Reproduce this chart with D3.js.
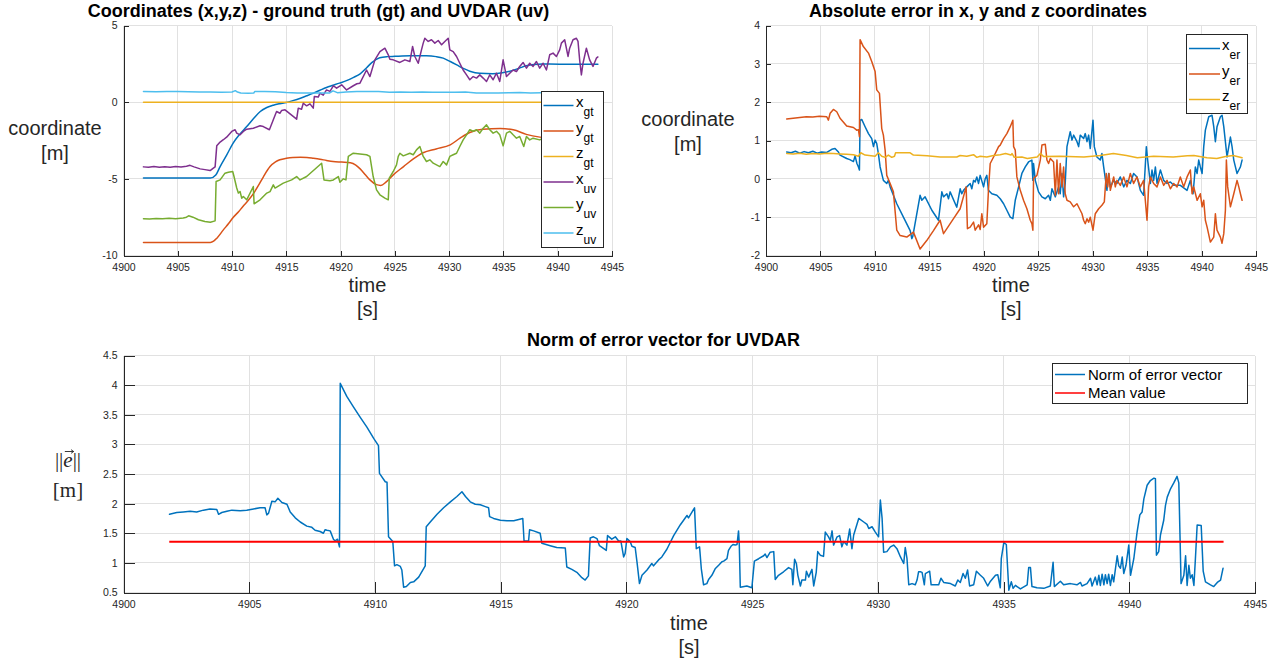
<!DOCTYPE html>
<html>
<head>
<meta charset="utf-8">
<script src="https://cdn.jsdelivr.net/npm/d3@7"></script>
<style>
  html, body { margin: 0; padding: 0; background: #ffffff; }
  svg { display: block; }
</style>
</head>
<body>
<svg id="fig" width="1284" height="663"></svg>
<script>
// ---------- tick values ----------
const timeTicks  = [4900, 4905, 4910, 4915, 4920, 4925, 4930, 4935, 4940, 4945];
const coordTicks = [-10, -5, 0, 5];
const errTicks   = [-2, -1, 0, 1, 2, 3, 4];
const normTicks  = [0.5, 1, 1.5, 2, 2.5, 3, 3.5, 4, 4.5];

// ---------- ground truth position [t (s), value (m)] ----------
const xGt = [[4901.84,-4.95],[4908.0,-4.95],[4908.5,-4.75],[4908.9,-4.2],[4909.5,-3.45],[4910.1,-2.67],[4910.7,-2.1],
  [4911.35,-1.59],[4912.0,-1.05],[4912.6,-0.61],[4913.2,-0.35],[4913.8,-0.2],[4914.4,-0.1],[4915.0,-0.02],[4915.6,0.1],
  [4916.3,0.26],[4916.9,0.42],[4917.5,0.59],[4918.1,0.78],[4918.7,0.96],[4919.3,1.1],[4919.9,1.24],[4920.6,1.42],
  [4921.2,1.62],[4921.8,1.85],[4922.4,2.25],[4922.9,2.6],[4923.6,2.9],[4924.3,2.97],[4925.0,2.99],[4926.4,3.02],
  [4927.9,3.02],[4928.8,2.97],[4929.45,2.87],[4930.1,2.65],[4930.7,2.43],[4931.3,2.2],[4931.9,2.02],[4932.8,1.88],
  [4934.0,1.86],[4934.9,1.92],[4935.6,2.02],[4936.4,2.2],[4937.1,2.37],[4937.8,2.46],[4938.6,2.49],[4940.2,2.48],[4943.7,2.48]];

const yGt = [[4901.84,-9.15],[4908.0,-9.15],[4908.3,-9.07],[4908.6,-8.87],[4909.2,-8.33],[4909.7,-7.9],[4910.1,-7.52],
  [4910.6,-7.15],[4911.0,-6.8],[4911.5,-6.4],[4912.0,-5.93],[4912.5,-5.35],[4912.9,-4.85],[4913.5,-4.2],[4914.0,-3.9],
  [4914.4,-3.76],[4915.0,-3.66],[4915.6,-3.61],[4916.3,-3.6],[4916.9,-3.61],[4917.5,-3.66],[4918.1,-3.72],[4918.7,-3.8],
  [4919.3,-3.87],[4920.1,-3.91],[4920.9,-3.95],[4921.4,-4.1],[4921.8,-4.35],[4922.3,-4.75],[4922.7,-5.07],[4923.3,-5.38],
  [4923.7,-5.43],[4924.2,-5.2],[4924.85,-4.74],[4925.8,-4.2],[4926.7,-3.7],[4927.6,-3.3],[4928.8,-3.05],[4930.1,-2.78],
  [4931.0,-2.35],[4931.9,-1.98],[4933.1,-1.76],[4934.7,-1.72],[4935.9,-1.8],[4937.1,-2.1],[4938.35,-2.28],[4939.5,-2.35],
  [4941.0,-2.3],[4942.5,-2.2],[4943.7,-2.15]];

const zGt = [[4901.84,0],[4943.7,0]];

// ---------- UVDAR estimate [t (s), value (m)] ----------
const xUv = [[4901.84,-4.22],[4902.3,-4.25],[4902.8,-4.2],[4903.3,-4.24],[4903.8,-4.21],[4904.3,-4.25],[4904.8,-4.2],
  [4905.3,-4.23],[4905.8,-4.18],[4906.13,-4.12],[4906.5,-4.22],[4907.06,-4.35],[4907.5,-4.4],[4907.98,-4.46],[4908.28,-4.3],
  [4908.44,-4.22],[4908.59,-2.85],[4908.9,-2.6],[4909.2,-2.45],[4909.5,-2.28],[4909.97,-1.91],[4910.28,-1.8],[4910.43,-2.02],
  [4910.74,-2.13],[4911.04,-1.91],[4911.35,-1.76],[4911.96,-1.7],[4912.58,-1.54],[4912.88,-1.59],[4913.44,-1.8],[4913.8,-1.15],
  [4914.1,-0.61],[4914.42,-0.72],[4914.57,-0.54],[4914.88,-0.5],[4915.95,-1.11],[4916.1,-0.39],[4916.4,-0.46],[4916.56,-0.07],
  [4916.87,-0.24],[4917.18,-0.11],[4917.48,-0.39],[4917.58,0.37],[4917.94,0.33],[4918.1,0.59],[4918.4,0.46],[4918.7,0.8],
  [4919.02,0.7],[4919.33,1.07],[4919.63,0.91],[4920.1,1.13],[4920.55,0.8],[4921.17,1.07],[4921.5,1.2],[4921.78,1.24],
  [4922.39,2.1],[4922.7,1.67],[4923.16,2.76],[4923.62,3.3],[4924.08,3.52],[4924.39,3.09],[4924.54,2.8],[4924.85,2.76],
  [4925.46,2.59],[4925.92,2.76],[4926.38,2.65],[4926.63,3.63],[4926.84,2.98],[4927.15,2.54],[4927.45,3.41],[4927.61,3.85],
  [4927.76,4.17],[4928.07,3.96],[4928.37,4.07],[4928.68,3.85],[4928.99,4.02],[4929.3,3.74],[4929.6,3.96],[4929.91,4.17],
  [4930.06,3.41],[4930.37,3.3],[4930.68,2.98],[4930.98,2.54],[4931.29,2.1],[4931.6,1.78],[4931.9,1.46],[4932.21,1.67],
  [4932.52,1.57],[4932.82,1.78],[4933.13,1.57],[4933.44,1.35],[4933.74,1.78],[4934.05,1.46],[4934.36,1.89],[4934.66,1.35],
  [4934.97,2.76],[4935.28,1.67],[4935.58,1.89],[4935.89,2.1],[4936.2,2.0],[4936.5,2.33],[4936.81,2.59],[4937.12,2.22],
  [4937.42,2.54],[4937.73,2.33],[4938.04,2.65],[4938.34,2.22],[4938.65,2.54],[4938.96,2.1],[4939.26,3.09],[4939.57,3.2],
  [4939.88,2.98],[4940.18,3.41],[4940.34,3.85],[4940.64,4.07],[4940.95,2.98],[4941.1,3.52],[4941.41,4.07],[4941.72,4.17],
  [4941.87,3.96],[4942.02,2.76],[4942.18,1.78],[4942.33,2.54],[4942.64,3.52],[4942.94,2.76],[4943.25,2.33],[4943.56,2.87],
  [4943.7,2.95]];

const yUv = [[4901.84,-7.6],[4902.4,-7.62],[4903.0,-7.58],[4903.6,-7.6],[4904.2,-7.57],[4904.8,-7.6],[4905.5,-7.55],
  [4905.8,-7.5],[4906.0,-7.41],[4906.4,-7.5],[4906.9,-7.67],[4907.5,-7.78],[4908.0,-7.83],[4908.44,-7.74],[4908.53,-5.17],
  [4908.9,-5.07],[4909.35,-4.63],[4909.66,-4.57],[4910.06,-4.52],[4910.18,-4.85],[4910.43,-5.6],[4910.58,-5.93],
  [4910.74,-5.83],[4910.89,-6.26],[4911.04,-6.15],[4911.35,-6.37],[4911.96,-5.5],[4912.03,-6.63],[4912.58,-6.37],
  [4913.2,-5.93],[4913.5,-5.83],[4913.8,-5.39],[4913.96,-5.6],[4914.72,-5.28],[4915.49,-5.07],[4915.95,-4.85],
  [4916.26,-5.07],[4916.87,-4.85],[4918.25,-3.98],[4918.47,-5.07],[4919.02,-5.13],[4919.33,-5.07],[4919.79,-4.85],
  [4919.94,-5.22],[4920.25,-5.0],[4920.49,-5.07],[4920.71,-3.54],[4921.17,-3.33],[4921.78,-3.38],[4922.39,-3.43],
  [4922.7,-3.54],[4923.0,-4.85],[4923.31,-5.72],[4923.62,-6.04],[4924.08,-6.26],[4924.39,-6.37],[4924.48,-4.96],
  [4924.85,-4.52],[4925.15,-4.09],[4925.31,-3.54],[4925.46,-3.33],[4925.77,-3.5],[4926.38,-3.33],[4926.69,-3.43],
  [4926.99,-3.11],[4927.3,-2.89],[4927.61,-3.54],[4927.91,-3.87],[4928.22,-3.76],[4928.53,-3.98],[4929.14,-4.2],
  [4929.45,-3.87],[4929.76,-4.09],[4930.06,-3.54],[4930.37,-3.43],[4930.68,-3.33],[4930.98,-2.89],[4931.29,-2.46],
  [4931.6,-2.13],[4931.9,-1.8],[4932.21,-1.9],[4932.52,-1.8],[4932.82,-2.02],[4933.13,-1.7],[4933.44,-1.48],[4933.74,-1.8],
  [4934.05,-2.02],[4934.36,-1.9],[4934.66,-2.13],[4934.97,-2.85],[4935.28,-2.02],[4935.58,-1.9],[4935.89,-2.13],
  [4936.2,-2.35],[4936.5,-2.24],[4936.87,-2.89],[4937.12,-2.24],[4937.42,-2.46],[4937.73,-2.35],[4938.34,-2.46],
  [4938.8,-2.3],[4939.3,-2.6],[4939.8,-2.4],[4940.3,-2.7],[4940.8,-2.5],[4941.3,-3.5],[4941.8,-3.8],[4942.3,-2.9],
  [4942.8,-2.2],[4943.3,-2.6],[4943.7,-2.7]];

const zUv = [[4901.84,0.7],[4903.0,0.68],[4904.0,0.7],[4905.0,0.69],[4906.0,0.68],[4907.0,0.67],[4908.0,0.66],[4909.0,0.65],
  [4910.0,0.66],[4910.3,0.75],[4910.5,0.66],[4910.8,0.6],[4911.5,0.58],[4912.0,0.6],[4912.1,0.7],[4913.0,0.7],[4914.0,0.68],
  [4915.0,0.63],[4916.0,0.6],[4917.0,0.59],[4918.0,0.59],[4919.0,0.6],[4919.3,0.74],[4919.7,0.62],[4920.5,0.66],[4921.5,0.7],
  [4922.5,0.7],[4923.5,0.69],[4924.5,0.65],[4925.5,0.67],[4926.5,0.65],[4927.5,0.66],[4928.5,0.64],[4929.5,0.65],
  [4930.5,0.64],[4931.5,0.66],[4932.5,0.6],[4933.5,0.59],[4934.5,0.6],[4935.5,0.62],[4936.5,0.63],[4937.5,0.6],
  [4938.5,0.62],[4940.0,0.62],[4941.5,0.6],[4943.7,0.6]];

// ---------- coordinate errors [t (s), value (m)] ----------
const xEr = [[4901.9,0.7],[4902.3,0.68],[4902.7,0.72],[4903.1,0.67],[4903.5,0.71],[4903.9,0.68],[4904.3,0.72],[4904.7,0.67],
  [4905.1,0.7],[4905.58,0.69],[4906.04,0.77],[4906.34,0.79],[4906.65,0.7],[4906.8,0.62],[4907.41,0.53],[4907.7,0.5],
  [4908.03,0.45],[4908.18,0.6],[4908.35,0.4],[4908.49,0.31],[4908.58,0.23],[4908.64,1.53],[4908.79,1.55],[4909.1,1.36],
  [4909.41,1.18],[4909.71,1.05],[4909.87,0.84],[4910.02,1.01],[4910.17,0.92],[4910.32,0.66],[4910.48,0.31],[4910.78,-0.04],
  [4911.09,-0.12],[4911.24,-0.04],[4911.4,-0.21],[4912.01,-0.65],[4912.62,-1.0],[4913.24,-1.35],[4913.39,-1.56],
  [4913.48,-1.5],[4914.15,-0.43],[4914.31,-0.56],[4914.61,-0.47],[4915.23,-0.82],[4915.84,-1.08],[4916.15,-0.34],
  [4916.3,-0.47],[4916.61,-0.39],[4916.76,-0.52],[4916.91,-0.34],[4917.52,-0.74],[4917.83,-0.26],[4917.98,-0.39],
  [4918.14,-0.3],[4918.44,-0.21],[4918.75,-0.12],[4918.9,-0.26],[4919.06,-0.04],[4919.21,-0.08],[4919.36,0.05],
  [4919.52,-0.12],[4919.67,0.09],[4919.98,-0.21],[4920.13,0.0],[4920.28,0.09],[4920.43,-0.3],[4920.74,-0.39],
  [4921.2,-0.43],[4921.51,-0.52],[4921.82,-0.65],[4922.12,-0.82],[4922.43,-1.0],[4922.67,-1.04],[4922.89,-0.56],
  [4923.2,-0.21],[4923.5,0.14],[4923.81,0.31],[4924.11,0.44],[4924.42,0.49],[4924.51,-0.04],[4924.57,0.4],[4924.73,-0.04],
  [4925.03,-0.34],[4925.34,-0.47],[4925.65,-0.52],[4925.95,-0.43],[4926.11,-0.56],[4926.26,-0.26],[4926.57,-0.47],
  [4926.87,-0.21],[4927.02,-0.39],[4927.18,0.14],[4927.33,-0.47],[4927.48,-0.12],[4927.64,0.84],[4927.94,1.23],
  [4928.1,1.01],[4928.25,1.14],[4928.56,0.97],[4928.71,0.84],[4928.86,1.14],[4929.17,1.05],[4929.32,1.18],[4929.48,0.97],
  [4929.63,1.14],[4929.78,0.79],[4930.03,1.53],[4930.15,0.84],[4930.39,0.57],[4930.7,0.49],[4930.85,0.66],[4931.01,0.31],
  [4931.16,0.01],[4931.31,-0.3],[4931.47,0.14],[4931.62,-0.21],[4931.93,-0.04],[4932.23,-0.12],[4932.54,0.05],
  [4932.85,-0.21],[4933.15,-0.04],[4933.46,-0.12],[4933.76,0.14],[4934.07,0.05],[4934.38,-0.3],[4934.68,-0.43],
  [4934.93,0.84],[4935.05,0.49],[4935.3,-0.12],[4935.45,0.23],[4935.6,-0.04],[4935.76,0.31],[4935.91,-0.12],
  [4936.22,0.23],[4936.52,-0.04],[4936.83,-0.12],[4937.14,-0.08],[4937.44,-0.17],[4938.05,-0.17],[4938.67,-0.3],
  [4938.97,-0.04],[4939.22,-0.39],[4939.43,0.31],[4939.59,0.14],[4939.74,0.49],[4939.89,0.31],[4940.05,0.14],
  [4940.2,0.84],[4940.35,1.27],[4940.66,1.62],[4940.96,1.66],[4941.12,1.36],[4941.27,0.97],[4941.42,1.36],[4941.73,1.62],
  [4941.88,1.66],[4942.04,1.36],[4942.34,0.57],[4942.65,1.09],[4942.8,0.84],[4942.96,0.49],[4943.11,0.31],[4943.26,0.14],
  [4943.42,0.23],[4943.57,0.31],[4943.72,0.49]];

const yEr = [[4901.9,1.56],[4902.5,1.58],[4903.1,1.6],[4903.7,1.62],[4904.3,1.61],[4904.9,1.63],[4905.58,1.62],[4905.73,1.53],
  [4905.89,1.71],[4906.19,1.81],[4906.5,1.75],[4906.8,1.58],[4907.41,1.38],[4908.03,1.34],[4908.33,1.27],[4908.49,1.28],
  [4908.58,1.1],[4908.64,3.63],[4908.94,3.45],[4909.41,3.28],[4909.71,3.06],[4910.02,2.8],[4910.17,2.32],[4910.42,2.23],
  [4910.63,1.31],[4910.78,1.14],[4910.94,0.75],[4911.09,0.09],[4911.4,-0.12],[4911.7,-0.34],[4912.01,-1.34],[4912.32,-1.48],
  [4912.93,-1.52],[4913.54,-1.39],[4914.15,-1.83],[4914.76,-1.61],[4915.38,-1.35],[4915.99,-1.08],[4916.3,-1.43],
  [4916.61,-1.3],[4917.22,-1.04],[4917.83,-0.78],[4918.38,-0.21],[4918.5,-1.3],[4918.75,-1.26],[4919.06,-1.13],
  [4919.21,-1.34],[4919.52,-1.2],[4919.67,-1.32],[4919.82,-0.91],[4919.98,-1.26],[4920.28,-1.17],[4920.43,-0.3],
  [4920.59,0.4],[4920.9,0.57],[4921.36,0.84],[4921.51,0.88],[4921.82,1.05],[4922.12,1.18],[4922.43,1.36],[4922.67,1.53],
  [4922.74,0.84],[4922.89,0.75],[4923.04,0.05],[4923.35,-0.3],[4923.65,-0.56],[4923.96,-0.78],[4924.27,-1.08],
  [4924.42,-1.17],[4924.51,-1.34],[4924.57,0.01],[4924.88,0.09],[4925.19,0.49],[4925.34,0.88],[4925.65,0.9],[4925.8,0.49],
  [4925.95,0.4],[4926.11,0.53],[4926.41,0.44],[4926.57,-0.43],[4926.72,0.49],[4926.87,-0.39],[4927.02,0.4],[4927.18,-0.21],
  [4927.33,0.31],[4927.48,-0.39],[4927.64,-0.56],[4927.94,-0.6],[4928.25,-0.73],[4928.56,-0.65],[4928.86,-0.82],
  [4929.02,-0.91],[4929.17,-1.08],[4929.32,-1.17],[4929.48,-1.04],[4929.63,-1.13],[4929.78,-1.0],[4930.03,-1.34],
  [4930.24,-0.91],[4930.55,-0.78],[4930.85,-0.69],[4931.07,-0.6],[4931.25,0.14],[4931.38,-0.21],[4931.5,0.14],
  [4931.62,-0.3],[4931.93,0.05],[4932.08,-0.21],[4932.23,-0.04],[4932.54,-0.17],[4932.85,0.05],[4933.15,-0.21],
  [4933.46,0.14],[4933.76,-0.12],[4934.07,0.05],[4934.38,-0.21],[4934.68,-0.04],[4934.99,-1.08],[4935.14,-0.21],
  [4935.3,0.05],[4935.6,-0.12],[4935.91,-0.21],[4936.22,0.05],[4936.52,-0.17],[4936.83,-0.04],[4937.14,-0.26],
  [4937.44,-0.12],[4937.75,-0.21],[4938.05,0.05],[4938.36,-0.21],[4938.67,0.05],[4938.97,0.23],[4939.13,-0.39],
  [4939.28,-0.21],[4939.59,-0.56],[4939.89,-0.39],[4940.05,-0.73],[4940.2,-0.56],[4940.35,-1.08],[4940.51,-1.26],
  [4940.81,-1.65],[4941.12,-1.52],[4941.27,-0.91],[4941.42,-1.34],[4941.73,-1.52],[4941.88,-1.68],[4942.04,-1.43],
  [4942.19,-0.82],[4942.28,0.49],[4942.4,-0.21],[4942.65,-0.73],[4942.96,-0.39],[4943.26,-0.04],[4943.42,-0.21],
  [4943.57,-0.39],[4943.72,-0.56]];

const zEr = [[4901.9,0.66],[4902.5,0.65],[4903.1,0.67],[4903.7,0.64],[4904.3,0.66],[4904.9,0.65],[4905.58,0.67],[4906.2,0.66],
  [4906.8,0.65],[4907.41,0.64],[4908.03,0.63],[4908.49,0.59],[4908.7,0.68],[4909.1,0.62],[4910.02,0.59],[4910.32,0.68],
  [4910.63,0.59],[4910.94,0.56],[4911.24,0.62],[4911.55,0.56],[4911.8,0.59],[4911.9,0.68],[4913.24,0.68],[4913.54,0.62],
  [4914.8,0.6],[4915.99,0.57],[4917.52,0.57],[4917.83,0.61],[4918.44,0.59],[4919.06,0.63],[4919.36,0.56],[4919.67,0.59],
  [4920.28,0.57],[4920.9,0.61],[4921.51,0.63],[4922.0,0.66],[4922.5,0.62],[4922.6,0.66],[4922.8,0.56],[4923.5,0.57],
  [4924.0,0.53],[4924.9,0.57],[4925.2,0.66],[4925.5,0.58],[4927.0,0.59],[4929.2,0.57],[4930.7,0.61],[4931.9,0.66],
  [4933.1,0.61],[4934.1,0.55],[4935.6,0.59],[4937.4,0.57],[4938.7,0.6],[4939.3,0.61],[4940.5,0.55],[4941.4,0.53],
  [4942.2,0.58],[4942.9,0.61],[4943.72,0.55]];

// ---------- norm of the error vector [t (s), value (m)] ----------
const normErr = [[4901.83,1.82],[4902.12,1.85],[4902.38,1.86],[4902.65,1.87],[4902.91,1.86],[4903.18,1.89],[4903.44,1.91],
  [4903.71,1.9],[4903.78,1.82],[4903.91,1.85],[4904.11,1.87],[4904.31,1.89],[4904.64,1.88],[4904.9,1.89],[4905.17,1.91],
  [4905.43,1.93],[4905.63,1.93],[4905.7,1.81],[4905.77,1.84],[4905.9,2.04],[4906.03,2.03],[4906.14,2.09],[4906.3,2.02],
  [4906.5,1.99],[4906.63,1.86],[4906.83,1.76],[4907.03,1.69],[4907.29,1.62],[4907.49,1.6],[4907.62,1.55],[4907.82,1.53],
  [4907.95,1.5],[4908.02,1.56],[4908.09,1.55],[4908.22,1.54],[4908.35,1.4],[4908.42,1.37],[4908.51,1.4],[4908.59,1.27],
  [4908.62,4.03],[4908.88,3.81],[4909.15,3.63],[4909.41,3.46],[4909.68,3.29],[4909.95,3.1],[4910.14,2.98],[4910.18,2.51],
  [4910.41,2.37],[4910.48,2.36],[4910.54,1.44],[4910.71,1.36],[4910.78,0.95],[4910.87,0.97],[4911.01,0.94],[4911.07,0.88],
  [4911.14,0.59],[4911.25,0.6],[4911.41,0.67],[4911.54,0.68],[4911.74,0.76],[4912.0,0.95],[4912.04,1.61],[4912.2,1.69],
  [4912.47,1.82],[4912.73,1.93],[4913.0,2.03],[4913.26,2.12],[4913.46,2.2],[4913.6,2.12],[4913.79,2.03],[4913.99,1.99],
  [4914.19,1.98],[4914.39,1.95],[4914.52,1.93],[4914.56,1.78],[4914.72,1.75],[4914.99,1.72],[4915.25,1.71],[4915.52,1.71],
  [4915.88,1.75],[4915.93,1.37],[4916.11,1.37],[4916.15,1.56],[4916.31,1.54],[4916.57,1.5],[4916.64,1.33],[4916.97,1.29],
  [4917.23,1.26],[4917.57,1.25],[4917.63,0.93],[4917.83,0.89],[4918.03,0.84],[4918.23,0.75],[4918.36,0.71],[4918.49,0.78],
  [4918.56,1.42],[4918.69,1.44],[4918.83,1.41],[4918.93,1.29],[4919.03,1.26],[4919.2,1.21],[4919.25,1.46],[4919.42,1.4],
  [4919.56,1.44],[4919.69,1.37],[4919.78,1.37],[4919.89,1.1],[4919.95,1.16],[4920.02,1.41],[4920.15,1.36],[4920.22,1.28],
  [4920.35,1.26],[4920.42,1.02],[4920.52,0.65],[4920.62,0.79],[4920.82,0.88],[4921.01,0.99],[4921.08,0.95],[4921.28,1.05],
  [4921.41,1.1],[4921.61,1.23],[4921.88,1.46],[4922.14,1.64],[4922.41,1.8],[4922.47,1.76],[4922.71,1.93],[4922.78,1.24],
  [4922.91,1.27],[4922.98,0.9],[4923.07,0.63],[4923.2,0.65],[4923.27,0.72],[4923.4,0.79],[4923.53,0.9],[4923.67,0.96],
  [4923.8,1.02],[4923.87,1.03],[4924.0,1.07],[4924.06,1.21],[4924.16,1.28],[4924.24,1.31],[4924.33,1.3],[4924.4,1.31],
  [4924.46,1.54],[4924.49,1.31],[4924.53,0.59],[4924.79,0.61],[4924.99,0.58],[4925.09,1.03],[4925.26,1.07],[4925.46,1.12],
  [4925.52,1.15],[4925.59,1.09],[4925.72,1.18],[4925.86,1.19],[4925.92,0.72],[4926.05,0.79],[4926.25,0.85],[4926.45,0.92],
  [4926.58,0.89],[4926.62,0.63],[4926.69,1.06],[4926.76,0.99],[4926.82,0.79],[4926.92,0.61],[4926.98,0.71],[4927.12,0.71],
  [4927.16,0.86],[4927.25,0.76],[4927.38,0.89],[4927.45,0.61],[4927.55,0.84],[4927.61,1.19],[4927.71,1.13],[4927.84,1.11],
  [4927.91,1.52],[4928.04,1.44],[4928.11,1.38],[4928.18,1.54],[4928.24,1.3],[4928.38,1.44],[4928.48,1.46],[4928.57,1.27],
  [4928.64,1.36],[4928.77,1.3],[4928.88,1.57],[4928.97,1.24],[4929.04,1.47],[4929.24,1.75],[4929.44,1.69],[4929.57,1.65],
  [4929.64,1.58],[4929.77,1.61],[4929.9,1.52],[4930.03,1.44],[4930.1,2.06],[4930.17,1.75],[4930.23,1.18],[4930.36,1.19],
  [4930.5,1.27],[4930.63,1.3],[4930.76,1.24],[4930.9,1.1],[4931.03,0.99],[4931.09,1.26],[4931.16,1.07],[4931.23,0.63],
  [4931.36,0.65],[4931.49,0.63],[4931.56,0.71],[4931.62,0.85],[4931.69,0.85],[4931.76,0.84],[4931.85,0.63],[4931.89,0.82],
  [4932.06,0.86],[4932.12,0.63],[4932.42,0.63],[4932.51,0.74],[4932.62,0.67],[4932.89,0.65],[4933.08,0.61],[4933.18,0.71],
  [4933.28,0.67],[4933.39,0.82],[4933.48,0.74],[4933.57,0.88],[4933.65,0.61],[4933.81,0.63],[4933.92,0.86],[4934.08,0.79],
  [4934.21,0.74],[4934.37,0.61],[4934.48,0.69],[4934.68,0.79],[4934.77,0.8],[4934.87,0.58],[4934.91,1.07],[4935.01,1.34],
  [4935.11,1.31],[4935.21,0.54],[4935.31,0.68],[4935.38,0.57],[4935.47,0.62],[4935.67,0.56],[4935.94,0.63],[4936.0,0.92],
  [4936.07,0.92],[4936.13,0.6],[4936.33,0.58],[4936.6,0.57],[4936.86,0.61],[4936.97,1.01],[4937.02,0.6],[4937.26,0.69],
  [4937.39,0.63],[4937.66,0.65],[4937.92,0.63],[4938.06,0.67],[4938.12,0.61],[4938.32,0.65],[4938.46,0.74],[4938.52,0.61],
  [4938.65,0.76],[4938.72,0.63],[4938.79,0.79],[4938.85,0.62],[4938.92,0.81],[4938.99,0.63],[4939.05,0.8],[4939.12,0.65],
  [4939.18,0.81],[4939.25,0.62],[4939.32,0.8],[4939.38,0.68],[4939.52,1.12],[4939.58,0.95],[4939.65,0.91],[4939.72,1.1],
  [4939.78,0.82],[4939.87,0.96],[4939.98,1.3],[4940.05,0.79],[4940.18,1.07],[4940.25,1.31],[4940.31,1.52],[4940.42,1.81],
  [4940.51,1.86],[4940.58,2.08],[4940.71,2.31],[4940.84,2.39],[4940.98,2.43],[4941.04,2.42],[4941.08,1.13],[4941.17,1.19],
  [4941.24,1.47],[4941.37,1.72],[4941.44,1.97],[4941.51,2.11],[4941.64,2.25],[4941.77,2.35],[4941.9,2.46],[4941.97,2.35],
  [4942.06,0.65],[4942.17,0.79],[4942.24,1.12],[4942.3,0.62],[4942.37,0.96],[4942.43,0.74],[4942.5,0.8],[4942.57,0.62],
  [4942.63,1.07],[4942.7,1.64],[4942.86,1.63],[4942.94,0.86],[4943.03,0.68],[4943.23,0.63],[4943.36,0.6],[4943.5,0.67],
  [4943.63,0.71],[4943.73,0.91]];

const meanNorm = 1.355;
const meanSpan = [4901.82, 4943.75];

// ---------- styling ----------
const FONT = '"Liberation Sans", Arial, Helvetica, sans-serif';
const SERIF = '"Liberation Serif", "DejaVu Serif", "Times New Roman", serif';
const INK = '#262626';
const GRID = '#e1e1e1';
const COL = {
  blue: '#0072BD', orange: '#D95319', yellow: '#EDB120',
  purple: '#7E2F8E', green: '#77AC30', cyan: '#4DBEEE', red: '#FF0000'
};

const svg = d3.select('#fig');
svg.append('rect').attr('width', 1284).attr('height', 663).attr('fill', '#fff');

const fmt = d => String(d);

// One set of axes: grid, inward ticks on the left and bottom, labels
function makeAxes(cfg) {
  const x = d3.scaleLinear().domain([4900, 4945]).range([cfg.left, cfg.right]);
  const y = d3.scaleLinear().domain(cfg.yDomain).range([cfg.bottom, cfg.top]);
  const g = svg.append('g');

  const grid = g.append('g').attr('shape-rendering', 'crispEdges')
    .attr('stroke', GRID).attr('stroke-width', 1);
  grid.selectAll('line.v').data(timeTicks).join('line').attr('class', 'v')
    .attr('x1', d => x(d)).attr('x2', d => x(d)).attr('y1', cfg.top).attr('y2', cfg.bottom);
  grid.selectAll('line.h').data(cfg.yTicks).join('line').attr('class', 'h')
    .attr('y1', d => y(d)).attr('y2', d => y(d)).attr('x1', cfg.left).attr('x2', cfg.right);

  const xa = g.append('g').attr('transform', `translate(0,${cfg.bottom})`)
    .call(d3.axisBottom(x).tickValues(timeTicks).tickSizeInner(-cfg.tick).tickSizeOuter(0)
      .tickPadding(8).tickFormat(fmt));
  const ya = g.append('g').attr('transform', `translate(${cfg.left},0)`)
    .call(d3.axisLeft(y).tickValues(cfg.yTicks).tickSizeInner(-cfg.tick).tickSizeOuter(0)
      .tickPadding(6).tickFormat(fmt));
  [xa, ya].forEach(a => {
    a.attr('shape-rendering', 'crispEdges');
    a.select('.domain').attr('stroke', INK).attr('stroke-width', 1);
    a.selectAll('.tick line').attr('stroke', INK).attr('stroke-width', 1);
    a.selectAll('.tick text').attr('fill', INK)
      .style('font-family', FONT).style('font-size', '10.5px');
  });

  const lines = g.append('g');
  const draw = (data, color, smooth) => {
    const gen = d3.line().x(d => x(d[0])).y(d => y(d[1]));
    if (smooth) gen.curve(d3.curveMonotoneX);
    lines.append('path').datum(data).attr('d', gen)
      .attr('fill', 'none').attr('stroke', color).attr('stroke-width', 1.5)
      .attr('stroke-linejoin', 'round').attr('stroke-linecap', 'round');
  };
  return { g, x, y, draw };
}

function label(lines, cx, y0, step, size, family) {
  const t = svg.append('text').attr('text-anchor', 'middle').attr('fill', INK)
    .style('font-family', family || FONT).style('font-size', size + 'px');
  lines.forEach((s, i) => t.append('tspan').attr('x', cx).attr('y', y0 + i * step).text(s));
  return t;
}

function title(text, cx, y) {
  svg.append('text').attr('x', cx).attr('y', y).attr('text-anchor', 'middle')
    .attr('fill', '#000').style('font-family', FONT).style('font-size', '18px')
    .style('font-weight', 'bold').text(text);
}

// Legend box with subscripted entries
function legend(box, entries, lineX, textX, rows, mainSize, subSize) {
  const g = svg.append('g');
  g.append('rect').attr('x', box[0]).attr('y', box[1]).attr('width', box[2] - box[0])
    .attr('height', box[3] - box[1]).attr('fill', '#fff').attr('stroke', INK)
    .attr('stroke-width', 1).attr('shape-rendering', 'crispEdges');
  entries.forEach((e, i) => {
    const yy = rows[i];
    g.append('line').attr('x1', lineX[0]).attr('x2', lineX[1]).attr('y1', yy).attr('y2', yy)
      .attr('stroke', e.color).attr('stroke-width', 1.5);
    const t = g.append('text').attr('x', textX).attr('y', yy + (e.sub ? 1.5 : 5)).attr('fill', '#000')
      .style('font-family', FONT).style('font-size', mainSize + 'px');
    t.append('tspan').text(e.main);
    if (e.sub) t.append('tspan').attr('dy', 9).style('font-size', subSize + 'px').text(e.sub);
  });
}

// ---------- panel 1: coordinates ----------
const p1 = makeAxes({ left: 123.5, right: 612, top: 25.5, bottom: 255.5, yDomain: [-10, 5], yTicks: coordTicks, tick: 5 });
p1.draw(xGt, COL.blue, true);
p1.draw(yGt, COL.orange, true);
p1.draw(zGt, COL.yellow, false);
p1.draw(xUv, COL.purple, false);
p1.draw(yUv, COL.green, false);
p1.draw(zUv, COL.cyan, false);
title('Coordinates (x,y,z) - ground truth (gt) and UVDAR (uv)', 318.5, 17);
label(['coordinate', '[m]'], 55, 135, 25, 20);
label(['time', '[s]'], 367.5, 292, 24, 20);
legend([541, 91, 603.5, 247], [
  { main: 'x', sub: 'gt', color: COL.blue },
  { main: 'y', sub: 'gt', color: COL.orange },
  { main: 'z', sub: 'gt', color: COL.yellow },
  { main: 'x', sub: 'uv', color: COL.purple },
  { main: 'y', sub: 'uv', color: COL.green },
  { main: 'z', sub: 'uv', color: COL.cyan }
], [543.5, 573.5], 576, [105.5, 131, 156.5, 182, 207.5, 233], 15, 12);

// ---------- panel 2: absolute error ----------
const p2 = makeAxes({ left: 766, right: 1256, top: 25.5, bottom: 255.5, yDomain: [-2, 4], yTicks: errTicks, tick: 5 });
p2.draw(xEr, COL.blue, false);
p2.draw(yEr, COL.orange, false);
p2.draw(zEr, COL.yellow, false);
title('Absolute error in x, y and z coordinates', 978, 17);
label(['coordinate', '[m]'], 688, 126, 25, 20);
label(['time', '[s]'], 1011, 292, 24, 20);
legend([1186, 34, 1247, 113], [
  { main: 'x', sub: 'er', color: COL.blue },
  { main: 'y', sub: 'er', color: COL.orange },
  { main: 'z', sub: 'er', color: COL.yellow }
], [1189, 1220], 1222, [48.5, 74, 99.5], 15, 12);

// ---------- panel 3: norm of error vector ----------
const p3 = makeAxes({ left: 123.5, right: 1255, top: 355.5, bottom: 592.5, yDomain: [0.5, 4.5], yTicks: normTicks, tick: 11 });
p3.draw(normErr, COL.blue, false);
p3.g.append('line')
  .attr('x1', p3.x(meanSpan[0])).attr('x2', p3.x(meanSpan[1]))
  .attr('y1', p3.y(meanNorm)).attr('y2', p3.y(meanNorm))
  .attr('stroke', COL.red).attr('stroke-width', 2);
title('Norm of error vector for UVDAR', 663.5, 346);
label(['time', '[s]'], 689, 630, 24, 20);

// ||e|| label; the vector arrow over e is a small drawn stroke
const nl = svg.append('text').attr('x', 68).attr('y', 467).attr('text-anchor', 'middle')
  .attr('fill', INK).style('font-family', SERIF).style('font-size', '21px');
nl.append('tspan').text('||');
nl.append('tspan').style('font-style', 'italic').text('e');
nl.append('tspan').text('||');
{
  let ax0 = 64.5, ax1 = 72.5;
  try {
    const ext = nl.node().getExtentOfChar(2);
    ax0 = ext.x + 1.5; ax1 = ext.x + ext.width + 1;
  } catch (err) { /* keep default span */ }
  const ay = 451.5;
  svg.append('path')
    .attr('d', `M${ax0},${ay}H${ax1}M${ax1 - 2.6},${ay - 1.8}L${ax1},${ay}L${ax1 - 2.6},${ay + 1.8}`)
    .attr('fill', 'none').attr('stroke', INK).attr('stroke-width', 0.9);
}
label(['[m]'], 68, 497, 0, 21, SERIF);

legend([1052, 363, 1247, 403], [
  { main: 'Norm of error vector', color: COL.blue },
  { main: 'Mean value', color: COL.red }
], [1055, 1085], 1088, [374.5, 393], 15, 12);
</script>
</body>
</html>
